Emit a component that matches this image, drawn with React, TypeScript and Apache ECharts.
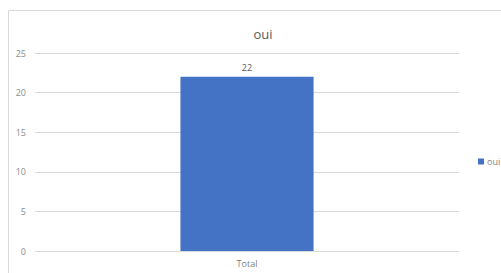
import React, { useEffect, useRef } from "react";
import * as echarts from "echarts";

const categories = ["Total"];
const seriesName = "oui";
const values = [22];
const yTicks = { min: 0, max: 25, interval: 5 };

export default function App() {
  const ref = useRef<HTMLDivElement>(null);
  useEffect(() => {
    document.body.style.margin = "0";
    const chart = echarts.init(ref.current!, null, { renderer: "svg" });
    const font = "'Open Sans', 'Liberation Sans', sans-serif";
    chart.setOption({
      animation: false,
      backgroundColor: "#ffffff",
      title: {
        text: "oui",
        left: 258,
        textAlign: "center",
        top: 22,
        textStyle: { fontFamily: font, fontSize: 13, fontWeight: "normal", color: "#595959" },
      },
      graphic: [
        {
          type: "rect",
          shape: { x: 8.5, y: 10.5, width: 600, height: 400 },
          style: { fill: "none", stroke: "#d9d9d9", lineWidth: 1 },
          silent: true,
        },
      ],
      legend: {
        data: [seriesName],
        left: 473,
        top: 152,
        itemWidth: 6,
        itemHeight: 6,
        itemGap: 4,
        icon: "rect",
        textStyle: { fontFamily: font, fontSize: 9, color: "#7f7f7f", padding: [0, 0, 0, -2] },
      },
      grid: { left: 35, right: 42, top: 53, bottom: 22, containLabel: false },
      xAxis: {
        type: "category",
        data: categories,
        axisLine: { show: false },
        axisTick: { show: false },
        axisLabel: { fontFamily: font, fontSize: 9, color: "#7f7f7f", margin: 8 },
      },
      yAxis: {
        type: "value",
        min: yTicks.min,
        max: yTicks.max,
        interval: yTicks.interval,
        axisLine: { show: false },
        axisTick: { show: false },
        splitLine: { lineStyle: { color: "#d9d9d9", width: 1 } },
        axisLabel: { fontFamily: font, fontSize: 9, color: "#8c8c8c", margin: 9 },
      },
      series: [
        {
          name: seriesName,
          type: "bar",
          data: values,
          barWidth: "31.4%",
          itemStyle: { color: "#4472c4" },
          label: {
            show: true,
            position: "top",
            distance: 5,
            fontFamily: font,
            fontSize: 9,
            color: "#595959",
          },
        },
      ],
    });
    return () => chart.dispose();
  }, []);
  return <div ref={ref} style={{ width: 501, height: 273 }} />;
}
